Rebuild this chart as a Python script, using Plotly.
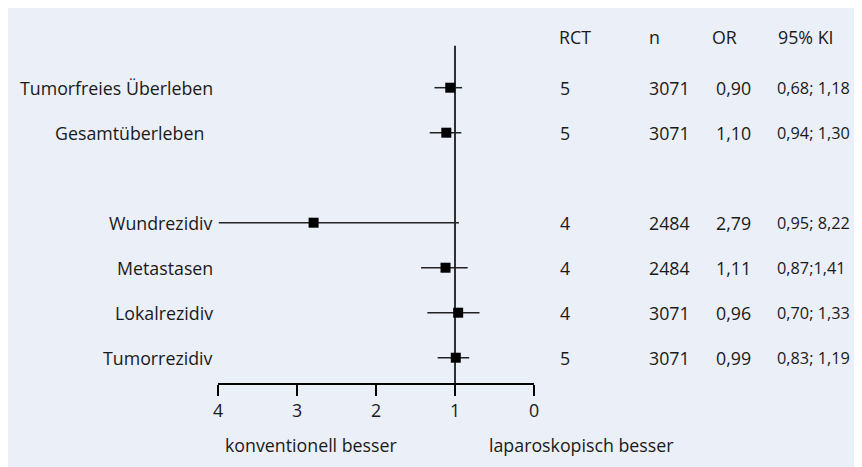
import plotly.graph_objects as go

# ---- data ----
outcomes = ["Tumorfreies Überleben", "Gesamtüberleben", "Wundrezidiv",
            "Metastasen", "Lokalrezidiv", "Tumorrezidiv"]
row_pos = [0, 1, 3, 4, 5, 6]
rct = ["5", "5", "4", "4", "4", "5"]
n_pat = ["3071", "3071", "2484", "2484", "3071", "3071"]
or_text = ["0,90", "1,10", "2,79", "1,11", "0,96", "0,99"]
ki_text = ["0,68; 1,18", "0,94; 1,30", "0,95; 8,22", "0,87;1,41", "0,70; 1,33", "0,83; 1,19"]
# positions of the drawn squares and whisker ends
est = [1.06, 1.11, 2.79, 1.12, 0.96, 0.99]
lo = [0.91, 0.92, 0.95, 0.84, 0.69, 0.82]
hi = [1.26, 1.32, 3.99, 1.43, 1.35, 1.22]
ticks = [4, 3, 2, 1, 0]
headers = ["RCT", "n", "OR", "95% KI"]

FONT = "Open Sans"
FS = 17.8
TXT = "#1a1a1a"
BG = "#ebeff8"

OFF = 8  # page body margin
W, H = 854, 459
ML, MT, MB = 210.3, 0, 84
MR = W - 526.3
PW = W - ML - MR
PH = H - MT - MB


def sx(px):  # screen x -> paper x
    return (px - OFF - ML) / PW


def sy(py):  # screen y -> paper y
    return (H - MB - (py - OFF)) / PH


fig = go.Figure()

# reference line at OR = 1
fig.add_trace(go.Scatter(x=[1, 1], y=[-0.93, 6.562], mode="lines",
                         line=dict(color="black", width=1.6),
                         hoverinfo="skip", showlegend=False, cliponaxis=False))

fig.add_trace(go.Scatter(
    x=est, y=row_pos, mode="markers",
    marker=dict(symbol="square", size=10, color="black"),
    error_x=dict(type="data", symmetric=False,
                 array=[h - e for h, e in zip(hi, est)],
                 arrayminus=[e - l for e, l in zip(est, lo)],
                 width=0, thickness=1.5, color="#222222"),
    showlegend=False, cliponaxis=False))

annotations = []
f = dict(family=FONT, size=FS, color=TXT)
f_ki = dict(family=FONT, size=16.3, color=TXT)
for lab, y in zip(outcomes, row_pos):
    annotations.append(dict(text=lab, x=sx(215.5 if lab != "Gesamtüberleben" else 206.5),
                            xref="paper", y=y, yref="y", xanchor="right",
                            yanchor="middle", showarrow=False, font=f))

col_x = [557, 647, 710, 776]
for h, cx in zip(headers, col_x):
    annotations.append(dict(text=h, x=sx(cx), xref="paper", y=-1.12, yref="y",
                            xanchor="left", yanchor="middle", showarrow=False, font=f))

val_x = [558, 647, 714, 775]
for i, y in enumerate(row_pos):
    for j, (col, cx) in enumerate(zip([rct, n_pat, or_text, ki_text], val_x)):
        annotations.append(dict(text=col[i], x=sx(cx), xref="paper", y=y, yref="y",
                                xanchor="left", yanchor="middle", showarrow=False,
                                font=f_ki if j == 3 else f))

annotations.append(dict(text="konventionell besser", x=sx(223), xref="paper",
                        y=sy(445), yref="paper", xanchor="left", yanchor="middle",
                        showarrow=False, font=f))
annotations.append(dict(text="laparoskopisch besser", x=sx(487), xref="paper",
                        y=sy(445), yref="paper", xanchor="left", yanchor="middle",
                        showarrow=False, font=f))

fig.update_layout(
    width=W, height=H,
    margin=dict(l=ML, r=MR, t=MT, b=MB, pad=0),
    paper_bgcolor=BG,
    plot_bgcolor=BG,
    annotations=annotations,
    xaxis=dict(range=[4, 0], tickvals=ticks, ticktext=[str(t) for t in ticks],
               showgrid=False, zeroline=False, showline=True, linecolor="black",
               linewidth=1.5, ticks="outside", ticklen=11, tickwidth=1.5,
               tickcolor="black", tickfont=dict(family=FONT, size=FS, color=TXT),
               fixedrange=True),
    yaxis=dict(range=[6.562, -1.771], visible=False, showgrid=False,
               zeroline=False, fixedrange=True),
    showlegend=False,
)

fig.write_html("out.html")
